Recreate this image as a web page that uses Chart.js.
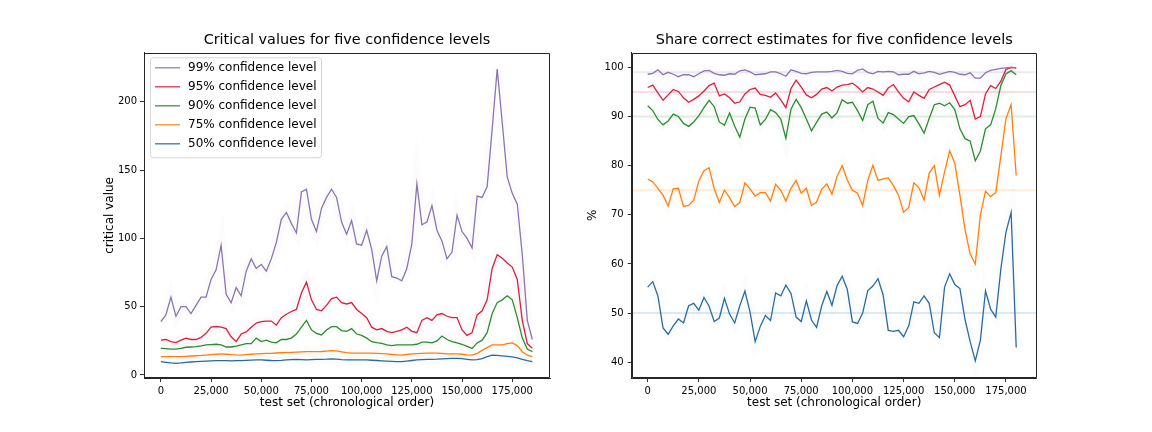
<!DOCTYPE html>
<html>
<head>
<meta charset="utf-8">
<script src="https://cdn.jsdelivr.net/npm/chart.js@4.4.1/dist/chart.umd.min.js"></script>
<style>
  body { margin: 0; background: #fff; }
  #wrap { position: relative; width: 1152px; height: 432px; }
  canvas { position: absolute; top: 0; }
</style>
</head>
<body>
<div id="wrap">
  <canvas id="ChartCanvas1" width="576" height="432" style="left:0"></canvas>
  <canvas id="ChartCanvas2" width="576" height="432" style="left:576px"></canvas>
</div>
<script>
// confidence levels, in legend order
const levelLabels = ['99% confidence level', '95% confidence level', '90% confidence level',
                     '75% confidence level', '50% confidence level'];
const levelTargets = [99, 95, 90, 75, 50];
const levelColors = ['#8a74b4', '#d62040', '#2e8a36', '#ff7f0e', '#2a6b9e'];

// test set position of each sample (every 2,500 rows)
const leftSteps = Array.from({length: 75}, (_, i) => i * 2500);
const rightSteps = Array.from({length: 73}, (_, i) => i * 2500);

const xTicks = [0, 25000, 50000, 75000, 100000, 125000, 150000, 175000];
const leftYTicks = [0, 50, 100, 150, 200];
const rightYTicks = [40, 50, 60, 70, 80, 90, 100];

// left: critical values
const critical99 = [39, 44, 57, 43, 50, 50, 45, 51, 57, 57,
  70, 77, 95, 59, 53, 64, 58, 76, 85, 78,
  81, 76, 85, 97, 114, 119, 111, 104, 134, 136,
  114, 105, 122, 130, 136, 130, 112, 103, 113, 96,
  95, 106, 92, 69, 87, 94, 72, 71, 69, 78,
  96, 140, 110, 112, 124, 106, 98, 85, 90, 117,
  105, 100, 93, 131, 130, 138, 180, 224, 185, 145,
  133, 125, 88, 40, 26];
const critical95 = [25.5, 26, 24.5, 23.7, 25.5, 27, 26, 26, 27.5, 30.5,
  35, 35.5, 35, 34, 28, 24.5, 30, 31.5, 35, 38,
  39, 39.5, 39.5, 36.5, 42, 44.5, 46.5, 48, 60, 68,
  55, 48, 47, 51, 56, 57, 53, 52, 53, 48,
  45, 42, 35, 33, 34, 32, 31, 32, 33, 35,
  32, 31, 40, 42, 40, 44, 45, 43, 42, 42,
  33, 29, 31, 44, 47, 55, 78, 88, 85.5, 82,
  79, 70, 40, 23, 19.5];
const critical90 = [19.5, 19.3, 19, 19, 19.5, 20.3, 20.5, 20.7, 21.3, 22,
  22.3, 22.5, 22, 20.5, 20.5, 21.2, 22, 23, 23, 27,
  24.5, 25.5, 24, 23.5, 26, 26, 27, 30, 35, 40,
  33, 30.5, 29.3, 33, 35.4, 35.4, 32.5, 32, 34, 30,
  29, 27, 24.4, 23.7, 23.2, 22, 21.5, 22, 22, 22,
  22, 22.5, 24, 24, 23.5, 25, 28.5, 26, 24.5, 23.5,
  22.5, 21, 19.5, 23.5, 25.5, 31, 45, 53, 55, 58,
  55, 42, 27, 19, 17];
const critical75 = [13.4, 13.4, 13.4, 13.5, 13.5, 13.7, 13.9, 14.1, 14.3, 14.6,
  14.9, 15.2, 15.4, 15.2, 14.9, 14.7, 14.6, 14.9, 15.2, 15.4,
  15.6, 15.8, 15.9, 16.1, 16.3, 16.4, 16.6, 16.8, 17, 17.1,
  17.1, 17.1, 17.2, 17.5, 17.8, 17.6, 17, 16.4, 16, 16,
  16, 16, 16, 15.8, 15.6, 15.4, 15, 14.8, 14.6, 15,
  15.4, 15.6, 15.8, 16, 16, 16, 15.8, 15.5, 15.4, 15.4,
  15.2, 14.8, 14.6, 15.8, 18, 20, 22, 22, 22, 23,
  23.5, 21.5, 17, 14.5, 13.4];
const critical50 = [9.8, 9.3, 8.8, 8.5, 8.8, 9.2, 9.5, 9.8, 10, 10.2,
  10.4, 10.5, 10.5, 10.5, 10.4, 10.5, 10.5, 10.7, 10.9, 11,
  11, 10.8, 10.6, 10.5, 10.7, 11, 11.3, 11.5, 11.3, 11,
  11.2, 11.4, 11.5, 11.6, 11.8, 11.6, 11.2, 11, 11, 11,
  11, 11, 10.8, 10.6, 10.4, 10.2, 10, 9.8, 9.8, 10.2,
  10.6, 11, 11.2, 11.4, 11.5, 11.6, 11.8, 12, 12.2, 12.2,
  12, 11.5, 11, 11.2, 12, 13.5, 14.6, 14.4, 14, 13.6,
  13.2, 12.5, 11.5, 10.5, 9.8];

// right: share of correct estimates (%)
const share99 = [98.6, 98.8, 99.5, 98.5, 99, 98.6, 98.1, 98.5, 98.5, 98.1,
  98.7, 99.3, 99.4, 98.8, 98.5, 98.4, 98.7, 98.6, 99.3, 99.5,
  99.1, 98.5, 98.6, 98.7, 99.1, 99.1, 98.7, 98.2, 99.5, 99.2,
  98.8, 98.7, 99, 99.1, 99.1, 99.1, 99.2, 99.4, 99.2, 98.8,
  98.7, 99.4, 99.7, 99, 98.7, 99.2, 99.1, 99.2, 99.1, 98.5,
  98.6, 98.6, 99.2, 98.7, 98.9, 99.2, 99, 98.6, 98.9, 99.2,
  99, 98.6, 98.5, 98.9, 97.8, 97.8, 98.9, 99.4, 99.6, 99.8,
  99.9, 100, 99.9];
const share95 = [95.9, 96.4, 94.8, 93.3, 94.4, 95.5, 95.1, 93.8, 92.9, 93.5,
  94.2, 95.2, 96.3, 96.8, 94.2, 94.6, 93.8, 92.7, 93, 94.6,
  95.5, 95.8, 94.5, 94.3, 93.9, 94.8, 93.4, 91.8, 95.7, 97.4,
  96, 94.4, 93.8, 94.5, 95.6, 95.9, 95.2, 96, 96.4, 96.5,
  96.8, 96, 95, 95.9, 95.6, 95, 94.3, 95.8, 96.5, 95,
  93.7, 93, 95, 94.3, 93.7, 95.5, 96, 96.5, 97, 96.4,
  94.2, 92, 92.4, 93.3, 89.5, 90, 94.6, 96.3, 95.7, 97.2,
  99.6, 100, 99.9];
const share90 = [92.2, 91.2, 89.4, 88.3, 89.1, 90.5, 90, 88.6, 88, 88.9,
  90.2, 91.8, 93.3, 92, 88.9, 88.2, 90.7, 88, 85.8, 89.5,
  91.9, 91.7, 88.3, 89.4, 91.4, 90.8, 89.5, 85.6, 91.5, 93.5,
  91.8, 89.5, 87.1, 88.8, 90.5, 90.9, 89.7, 90.8, 93.4, 92.7,
  92.9, 91.2, 89.2, 92.4, 93.1, 89.6, 88.7, 90.8, 90.4, 89.5,
  88.6, 90, 90.2, 88.5, 86.6, 89.6, 92.4, 92.7, 92.2, 92.8,
  91.4, 87.5, 85.5, 85, 81, 83, 87.5, 88.3, 91.6, 96.3,
  98.7, 99.3, 98.5];
const share75 = [77.3, 76.7, 75.4, 74, 71.8, 75.3, 75.4, 71.7, 71.9, 73,
  76.9, 79, 79.6, 75.3, 72.5, 75, 73.5, 71.7, 72.5, 76.5,
  75.3, 73.8, 74.5, 74.5, 72.8, 76.2, 75, 72.8, 75.4, 77,
  74.4, 75.4, 71.9, 72.6, 75.2, 76.3, 74.2, 77.8, 80, 77.1,
  75, 74.4, 71.9, 77, 80.1, 77, 77.3, 77.5, 76, 74,
  70.5, 71.5, 76.5, 75.5, 73, 78.5, 80, 74, 78.7, 83,
  80.5, 74, 67, 62, 60, 70, 74.8, 73.7, 74.5, 82,
  89.6, 92.4, 78];
const share50 = [55.3, 56.4, 53.5, 47, 45.7, 47.4, 48.8, 48, 51.5, 52,
  50.6, 53.2, 51.4, 48.3, 49, 53, 49.8, 48, 51.5, 54.5,
  50.2, 44.2, 47.3, 49.5, 48.5, 54.1, 53.5, 55.7, 54, 49.2,
  48.3, 52.5, 48.6, 47.1, 51.5, 54.4, 51.6, 55.6, 57.5, 54.8,
  48.2, 47.9, 50, 54.6, 55.5, 57, 53.7, 46.5, 46.3, 46.5,
  45.2, 47.4, 52.3, 52, 53.5, 52, 46, 45, 55.3, 58,
  55.8, 55, 48.7, 44.2, 40.3, 44.5, 54.5, 50.8, 49.2, 59,
  66.5, 70.5, 43];

const FONT = 'DejaVu Sans';

function fade(hex, a) {
    const n = parseInt(hex.slice(1), 16);
    return `rgba(${n >> 16}, ${(n >> 8) & 255}, ${n & 255}, ${a})`;
}

function makeDatasets(steps, seriesList) {
    const sets = [];
    seriesList.forEach((values, i) => {
        const points = steps.map((x, j) => ({x: x, y: values[j]}));
        sets.push({label: levelLabels[i], data: points, borderColor: levelColors[i],
                   borderWidth: 1.3, pointRadius: 0, tension: 0, order: 1});
        // very faint halo behind each line
        sets.push({label: '', data: points, borderColor: fade(levelColors[i], 0.025),
                   borderWidth: 10, pointRadius: 0, tension: 0, order: 10});
    });
    return sets;
}

// frame, target lines and the matplotlib style legend box
const decorPlugin = {
    id: 'decor',
    beforeDatasetsDraw(chart, args, opts) {
        if (!opts.targets) return;
        const {ctx, chartArea: a, scales} = chart;
        ctx.save();
        levelTargets.forEach((t, i) => {
            const y = scales.y.getPixelForValue(t);
            ctx.strokeStyle = fade(levelColors[i], 0.15);
            ctx.lineWidth = 2;
            ctx.beginPath();
            ctx.moveTo(a.left, y);
            ctx.lineTo(a.right, y);
            ctx.stroke();
        });
        ctx.restore();
    },
    afterDraw(chart, args, opts) {
        const {ctx, chartArea: a} = chart;
        ctx.save();
        ctx.strokeStyle = '#262626';
        ctx.lineWidth = 1;
        const l = Math.round(a.left) + 0.5, t = Math.round(a.top) + 0.5;
        const r = Math.round(a.right) - 0.5, b = Math.round(a.bottom) - 0.5;
        ctx.beginPath();
        ctx.moveTo(l, t);
        ctx.lineTo(r, t);
        ctx.lineTo(r, b);
        ctx.lineTo(l, b);
        ctx.closePath();
        ctx.stroke();

        if (opts.legend) {
            const x0 = a.left + 6, y0 = a.top + 4.5, w = 171, h = 100;
            ctx.beginPath();
            ctx.roundRect(x0 + 0.5, y0 + 0.5, w, h, 3);
            ctx.fillStyle = 'rgba(255,255,255,0.8)';
            ctx.fill();
            ctx.strokeStyle = '#d6d6d6';
            ctx.stroke();
            ctx.font = '12px ' + FONT;
            ctx.textBaseline = 'middle';
            ctx.fillStyle = '#000';
            levelLabels.forEach((label, i) => {
                const y = y0 + 10.5 + i * 19;
                ctx.strokeStyle = fade(levelColors[i], 0.8);
                ctx.lineWidth = 1.5;
                ctx.beginPath();
                ctx.moveTo(x0 + 5, y);
                ctx.lineTo(x0 + 30, y);
                ctx.stroke();
                ctx.fillText(label, x0 + 38, y + 0.5);
            });
        }
        ctx.restore();
    }
};

function makeOptions(cfg) {
    return {
        responsive: false,
        animation: false,
        layout: {padding: {top: 32, left: 0, right: cfg.padRight, bottom: 0}},
        plugins: {
            legend: {display: false},
            tooltip: {enabled: false},
            title: {display: true, text: cfg.title, fullSize: false, color: '#000',
                    font: {family: FONT, size: 14.4, weight: 'normal'},
                    padding: {top: 0, bottom: 3.5}},
            decor: {legend: cfg.legend, targets: cfg.targets}
        },
        scales: {
            x: {
                type: 'linear', min: cfg.xMin, max: cfg.xMax,
                afterBuildTicks: s => { s.ticks = xTicks.map(v => ({value: v})); },
                afterFit: s => { s.height = 54; },
                ticks: {color: '#000', padding: 3, maxRotation: 0, autoSkip: false,
                        font: {family: FONT, size: 10},
                        callback: v => v.toLocaleString('en-US')},
                grid: {drawOnChartArea: false, drawTicks: true, tickLength: 4, color: '#000', lineWidth: 0.8},
                border: {display: true, color: '#262626'},
                title: {display: true, text: 'test set (chronological order)', color: '#000',
                        font: {family: FONT, size: 12}, padding: {top: 0, bottom: 21.8}}
            },
            y: {
                type: 'linear', min: cfg.yMin, max: cfg.yMax,
                afterBuildTicks: s => { s.ticks = cfg.yTicks.map(v => ({value: v})); },
                afterFit: s => { s.width = cfg.yWidth; },
                ticks: {color: '#000', padding: cfg.yPad, autoSkip: false,
                        font: {family: FONT, size: 10}},
                grid: {drawOnChartArea: false, drawTicks: true, tickLength: 4, color: '#000', lineWidth: 0.8},
                border: {display: true, color: '#262626'},
                title: {display: true, text: cfg.yTitle, color: '#000',
                        font: {family: FONT, size: 12}, padding: {top: cfg.yTitlePad, bottom: 0}}
            }
        }
    };
}

new Chart(document.getElementById('ChartCanvas1').getContext('2d'), {
    type: 'line',
    data: {datasets: makeDatasets(leftSteps, [critical99, critical95, critical90, critical75, critical50])},
    options: makeOptions({
        title: 'Critical values for five confidence levels',
        padRight: 26, xMin: -8400, xMax: 193800, yMin: -2.2, yMax: 235.9,
        yTicks: leftYTicks, yWidth: 144, yPad: 3, yTitle: 'critical value', yTitlePad: 102.8,
        legend: true, targets: false
    }),
    plugins: [decorPlugin]
});

new Chart(document.getElementById('ChartCanvas2').getContext('2d'), {
    type: 'line',
    data: {datasets: makeDatasets(rightSteps, [share99, share95, share90, share75, share50])},
    options: makeOptions({
        title: 'Share correct estimates for five confidence levels',
        padRight: 115.3, xMin: -7800, xMax: 190000, yMin: 36.8, yMax: 102.97,
        yTicks: rightYTicks, yWidth: 55.7, yPad: 4, yTitle: '%', yTitlePad: 10,
        legend: false, targets: true
    }),
    plugins: [decorPlugin]
});
</script>
</body>
</html>
